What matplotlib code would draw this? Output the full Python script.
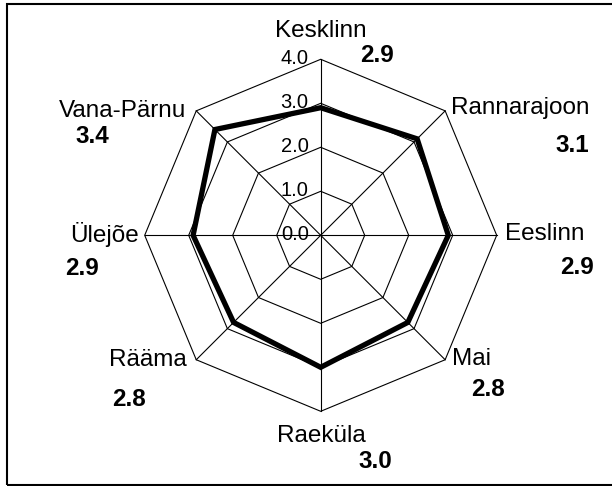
import numpy as np
import matplotlib.pyplot as plt
from matplotlib.patches import Rectangle, Polygon

# districts clockwise from the top, with their scores
districts = ["Kesklinn", "Rannarajoon", "Eeslinn", "Mai", "Raeküla", "Rääma", "Ülejõe", "Vana-Pärnu"]
scores = [2.9, 3.1, 2.9, 2.8, 3.0, 2.8, 2.9, 3.4]
grid_levels = [0.0, 1.0, 2.0, 3.0, 4.0]

plt.rcParams['font.family'] = ['Liberation Sans', 'DejaVu Sans']

fig = plt.figure(figsize=(6.12, 4.86), dpi=100)
W, H = 612, 486
cx, cy = 320.7, 486 - 235.3   # chart centre in pixels (from bottom)
ppu = 176 / 4.0               # pixels per unit

ax = fig.add_axes([0, 0, 1, 1])
ax.set_xlim(-cx / ppu, (W - cx) / ppu)
ax.set_ylim(-cy / ppu, (H - cy) / ppu)
ax.axis('off')

n = len(districts)
theta = np.arange(n) * 2 * np.pi / n
sx, sy = np.sin(theta), np.cos(theta)
rmax = grid_levels[-1]

# spokes
for i in range(n):
    ax.plot([0, rmax * sx[i]], [0, rmax * sy[i]], color='black', lw=0.8)

# octagon grid
for g in grid_levels[1:]:
    ax.add_patch(Polygon(np.column_stack([g * sx, g * sy]), closed=True, fill=False,
                         edgecolor='black', lw=0.8))

# tick labels on the top spoke
for g in grid_levels:
    ax.annotate(f"{g:.1f}", (0, g), xytext=(-12, 1), textcoords='offset pixels',
                ha='right', va='center', fontsize=14.5)

# data line
v = np.array(scores)
ax.add_patch(Polygon(np.column_stack([v * sx, v * sy]), closed=True, fill=False,
                     edgecolor='black', lw=3.8, joinstyle='miter', zorder=3))

# category labels and bold value labels
name_off = [(0, 28, 'center'), (6, 3, 'left'), (8, 1, 'left'), (7, 1, 'left'),
            (1, -25, 'center'), (-9, 0, 'right'), (-6, 1, 'right'), (-10, 0, 'right')]
val_off = [(56, 4), (127, -35), (80, -32), (43, -30), (55, -50), (-67, -40), (-63, -33), (-104, -26)]
for i in range(n):
    px, py = rmax * sx[i], rmax * sy[i]
    dx, dy, ha = name_off[i]
    ax.annotate(districts[i], (px, py), xytext=(dx, dy), textcoords='offset pixels',
                ha=ha, va='center', fontsize=17.5)
    ax.annotate(f"{scores[i]:.1f}", (px, py), xytext=val_off[i], textcoords='offset pixels',
                ha='center', va='center', fontsize=17.5, fontweight='bold')

# outer frame (right side cut off in the original)
fig.patches.append(Rectangle((6.7 / W, 1.5 / H), 1.2, (480.2) / H, transform=fig.transFigure,
                             fill=False, edgecolor='black', lw=1.5))

fig.savefig('out.png', dpi=100)
